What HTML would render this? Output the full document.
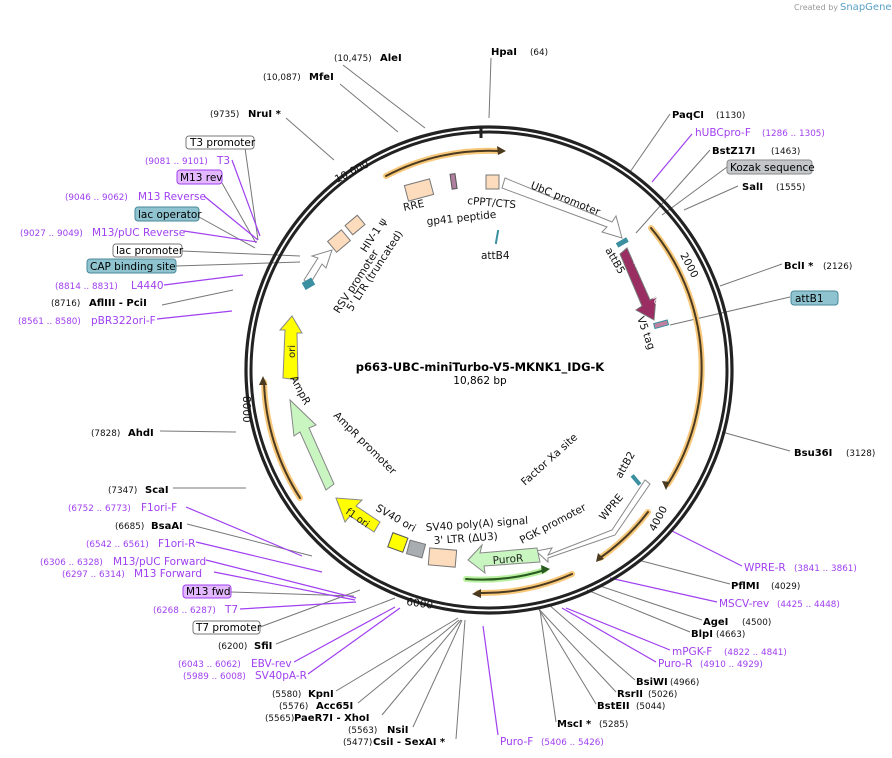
<!DOCTYPE html>
<html><head><meta charset="utf-8"><style>
html,body{margin:0;padding:0;background:#fff;}
svg{display:block;font-family:"DejaVu Sans","Liberation Sans",sans-serif;}
.n{font-size:8.8px;fill:#111}
.b{font-size:10px;font-weight:bold;fill:#000}
.p{font-size:10.5px;fill:#a040f0}
.pn{font-size:8.8px;fill:#a040f0}
.f{font-size:10.5px;fill:#111}
.l{stroke:#777;stroke-width:1;fill:none}
.lp{stroke:#a040f0;stroke-width:1.2;fill:none}
</style></head><body>
<svg width="892" height="758" viewBox="0 0 892 758">
<text x="794" y="10" font-size="8" fill="#999">Created by</text>
<text x="840" y="10" font-size="10" fill="#5aa0c8">SnapGene</text>

<g class="l">
<path d="M343,65 L425,128"/><path d="M340,84 L398,132"/><path d="M286,118 L334,160"/>
<path d="M245,148 L258,240"/><path d="M222,183 L256,243"/><path d="M199,217 L255,248"/>
<path d="M182,251 L300,256"/><path d="M176,266 L300,262"/><path d="M162,305 L233,290"/>
<path d="M160,431 L236,432"/><path d="M173,488 L246,488"/><path d="M187,524 L312,556"/>
<path d="M231,592 L354,596"/><path d="M260,627 L360,590"/><path d="M276,644 L395,598"/>
<path d="M336,691 L458,618"/><path d="M358,703 L459,620"/><path d="M382,715 L461,620"/><path d="M413,727 L462,620"/><path d="M456,739 L465,620"/>
<path d="M556,722 L540,610"/><path d="M596,704 L538,608"/><path d="M616,692 L537,607"/><path d="M635,680 L548,604"/>
<path d="M690,632 L587,590"/><path d="M702,620 L600,586"/><path d="M730,584 L638,560"/><path d="M790,451 L722,432"/>
<path d="M782,264 L720,286"/><path d="M790,297 L670,325"/><path d="M738,186 L684,210"/><path d="M727,167 L662,215"/><path d="M710,150 L636,233"/><path d="M670,114 L630,172"/><path d="M491,58 L489,118"/>
</g>
<g class="lp">
<path d="M232,160 L260,236"/><path d="M204,196 L258,240"/><path d="M184,231 L257,242"/><path d="M164,285 L243,275"/><path d="M157,319 L232,311"/>
<path d="M186,507 L302,556"/><path d="M196,542 L322,572"/><path d="M206,560 L356,598"/><path d="M214,572 L355,600"/><path d="M240,609 L356,602"/>
<path d="M294,662 L395,607"/><path d="M308,674 L400,608"/><path d="M498,735 L483,626"/>
<path d="M656,662 L562,608"/><path d="M670,650 L566,608"/><path d="M717,602 L610,578"/><path d="M742,566 L670,530"/><path d="M692,134 L652,182"/>
</g>

<circle cx="489" cy="370" r="243" fill="none" stroke="#222" stroke-width="3.2"/>
<circle cx="489" cy="370" r="238" fill="none" stroke="#222" stroke-width="3"/>
<line x1="481" y1="126" x2="481" y2="138" stroke="#222" stroke-width="3"/>
<text class="f" font-size="10" transform="translate(337,183) rotate(-27)">10,000</text>
<text class="f" font-size="10" transform="translate(680,255) rotate(62)">2000</text>
<text class="f" font-size="10" transform="translate(655,532) rotate(-62)">4000</text>
<text class="f" font-size="10" x="406" y="605" transform="rotate(8 406 605)">6000</text>
<text class="f" font-size="10" transform="translate(243,396) rotate(90)">8000</text>

<g fill="none" stroke-linecap="round">
<g stroke="#f7c77a" stroke-width="6">
<path d="M386,176 A220,220 0 0 1 500,151"/><path d="M651,228 A218,218 0 0 1 668,484"/>
<path d="M648,512 A215,215 0 0 1 600,558"/><path d="M572,574 A220,220 0 0 1 478,593"/>
<path d="M300,498 A228,228 0 0 1 264,382"/></g>
<g stroke="#4a3a20" stroke-width="2">
<path d="M386,176 A220,220 0 0 1 500,151"/><path d="M651,228 A218,218 0 0 1 668,484"/>
<path d="M648,512 A215,215 0 0 1 600,558"/><path d="M572,574 A220,220 0 0 1 478,593"/>
<path d="M300,498 A228,228 0 0 1 264,382"/></g>
<path d="M466,579 A210,210 0 0 0 545,570" stroke="#b8f0a0" stroke-width="6"/>
<path d="M466,579 A210,210 0 0 0 545,570" stroke="#2a5a20" stroke-width="2"/>
</g>
<g fill="#4a3a20"><path d="M506,151 l-9,-5 l1,9z"/><path d="M666,490 l-4,-9 l8,1z"/><path d="M596,562 l2,-9 l6,6z"/><path d="M472,594 l9,-5 l0,9z"/><path d="M263,376 l-4,9 l8,0z"/><path d="M550,569 l-9,-4 l1,9z" fill="#2a5a20"/></g>

<path d="M505,178 L612,222 L616,216 L622,238 L602,232 L607,227 L502,188Z" fill="#fff" stroke="#888"/>
<path d="M627,248 L650,300 L656,297 L654,320 L636,310 L642,306 L620,254Z" fill="#9a2d62" stroke="#777"/>
<text font-size="10" fill="#fff" transform="translate(633,262) rotate(62)">miniTurbo</text>
<rect x="616" y="240" width="12" height="5" fill="#3a8fa0" transform="rotate(-30 622 242)"/>
<rect x="654" y="322" width="14" height="5" fill="#c080a0" stroke="#3a8fa0" transform="rotate(-15 660 324)"/>
<path d="M645,480 L612,530 L548,555 L552,548 L536,551 L548,562 L548,558 L615,535 L650,484Z" fill="#fff" stroke="#888"/>
<rect x="630" y="478" width="12" height="4" fill="#3a8fa0" transform="rotate(50 636 480)"/>
<path d="M537,548 L480,553 L482,545 L468,560 L485,573 L484,566 L540,562Z" fill="#c8f5c0" stroke="#888"/>
<text font-size="10.5" fill="#222" x="493" y="564" transform="rotate(-5 493 564)">PuroR</text>
<rect x="429" y="549" width="27" height="17" fill="#fcdcbc" stroke="#777" transform="rotate(5 442 557)"/>
<rect x="408" y="542" width="16" height="14" fill="#a8adb2" stroke="#777" transform="rotate(15 416 549)"/>
<rect x="390" y="535" width="16" height="15" fill="#ffff00" stroke="#555" transform="rotate(20 398 542)"/>
<path d="M374,532 L350,516 L345,522 L336,498 L362,500 L356,506 L380,522Z" fill="#ffff00" stroke="#888"/>
<text font-size="10" fill="#222" transform="translate(345,513) rotate(35)">f1 ori</text>
<path d="M326,490 L300,432 L294,436 L290,400 L316,425 L309,428 L334,484Z" fill="#c8f5c0" stroke="#888"/>
<path d="M298,380 L283,378 L285,330 L280,330 L292,316 L302,333 L297,333Z" fill="#ffff00" stroke="#888"/>
<text font-size="10" fill="#222" transform="translate(295,358) rotate(-90)">ori</text>
<path d="M304,280 L318,258 L312,256 L332,250 L326,268 L322,264 L310,284Z" fill="#fff" stroke="#888"/>
<rect x="303" y="280" width="11" height="8" fill="#3a8fa0" transform="rotate(-30 308 284)"/>
<rect x="330" y="234" width="18" height="14" fill="#fcdcbc" stroke="#777" transform="rotate(-40 339 241)"/>
<rect x="347" y="219" width="16" height="12" fill="#fcdcbc" stroke="#777" transform="rotate(-40 355 225)"/>
<rect x="406" y="182" width="26" height="16" fill="#fcdcbc" stroke="#777" transform="rotate(-15 419 190)"/>
<rect x="451" y="174" width="5" height="15" fill="#b07fa0" stroke="#555" transform="rotate(-8 453 181)"/>
<rect x="486" y="175" width="13" height="14" fill="#fcdcbc" stroke="#777"/>
<rect x="496" y="230" width="2" height="14" fill="#3a8fa0" transform="rotate(10 497 237)"/>

<text class="f" x="404" y="211" transform="rotate(-12 404 211)">RRE</text>
<text class="f" x="427" y="225" transform="rotate(-6 427 225)">gp41 peptide</text>
<text class="f" x="467" y="204" transform="rotate(5 467 204)">cPPT/CTS</text>
<text class="f" transform="translate(530,188) rotate(22)">UbC promoter</text>
<text class="f" x="481" y="259">attB4</text>
<text class="f" transform="translate(605,250) rotate(60)">attB5</text>
<text class="f" transform="translate(637,318) rotate(70)">V5 tag</text>
<text class="f" transform="translate(366,253) rotate(-57)">HIV-1 ψ</text>
<text class="f" transform="translate(339,314) rotate(-57)">RSV promoter</text>
<text class="f" transform="translate(352,312) rotate(-57)">5' LTR (truncated)</text>
<text class="f" transform="translate(290,378) rotate(62)">AmpR</text>
<text class="f" transform="translate(333,416) rotate(45)">AmpR promoter</text>
<text class="f" transform="translate(375,510) rotate(30)">SV40 ori</text>
<text class="f" x="426" y="531" transform="rotate(-4 426 531)">SV40 poly(A) signal</text>
<text class="f" x="434" y="544" transform="rotate(-4 434 544)">3' LTR (ΔU3)</text>
<text class="f" transform="translate(525,486) rotate(-42)">Factor Xa site</text>
<text class="f" transform="translate(621,479) rotate(-60)">attB2</text>
<text class="f" transform="translate(522,544) rotate(-28)">PGK promoter</text>
<text class="f" transform="translate(604,521) rotate(-50)">WPRE</text>
<text x="480" y="371" text-anchor="middle" font-size="11.5" font-weight="bold">p663-UBC-miniTurbo-V5-MKNK1_IDG-K</text>
<text x="480" y="384" text-anchor="middle" font-size="10.5">10,862 bp</text>

<g font-size="10.5">
<rect x="186" y="136" width="68" height="13" rx="3" fill="#fff" stroke="#777"/><text x="190" y="146">T3 promoter</text>
<rect x="177" y="170" width="45" height="14" rx="3" fill="#e3b8ff" stroke="#a040f0"/><text x="180" y="181">M13 rev</text>
<rect x="135" y="207" width="64" height="14" rx="3" fill="#8ec3cf" stroke="#4a8a9a"/><text x="138" y="218">lac operator</text>
<rect x="113" y="244" width="69" height="13" rx="3" fill="#fff" stroke="#777"/><text x="116" y="254">lac promoter</text>
<rect x="87" y="259" width="89" height="14" rx="3" fill="#8ec3cf" stroke="#4a8a9a"/><text x="90" y="270">CAP binding site</text>
<rect x="183" y="585" width="48" height="13" rx="3" fill="#e3b8ff" stroke="#a040f0"/><text x="186" y="595">M13 fwd</text>
<rect x="193" y="621" width="67" height="13" rx="3" fill="#fff" stroke="#777"/><text x="196" y="631">T7 promoter</text>
<rect x="727" y="160" width="85" height="14" rx="3" fill="#c4c7ca" stroke="#888"/><text x="730" y="171">Kozak sequence</text>
<rect x="791" y="291" width="47" height="14" rx="3" fill="#8ec3cf" stroke="#4a8a9a"/><text x="795" y="302">attB1</text>
</g>

<text class="n" x="334" y="61">(10,475)</text><text class="b" x="380" y="61">AleI</text>
<text class="n" x="263" y="80">(10,087)</text><text class="b" x="309" y="80">MfeI</text>
<text class="n" x="210" y="117">(9735)</text><text class="b" x="248" y="117">NruI *</text>
<text class="pn" x="145" y="164">(9081 .. 9101)</text><text class="p" x="217" y="164">T3</text>
<text class="pn" x="65" y="200">(9046 .. 9062)</text><text class="p" x="138" y="200">M13 Reverse</text>
<text class="pn" x="20" y="236">(9027 .. 9049)</text><text class="p" x="92" y="236">M13/pUC Reverse</text>
<text class="pn" x="55" y="289">(8814 .. 8831)</text><text class="p" x="131" y="289">L4440</text>
<text class="n" x="51" y="306">(8716)</text><text class="b" x="89" y="306">AflIII  - PciI</text>
<text class="pn" x="18" y="324">(8561 .. 8580)</text><text class="p" x="91" y="324">pBR322ori-F</text>
<text class="n" x="91" y="436">(7828)</text><text class="b" x="128" y="436">AhdI</text>
<text class="n" x="108" y="493">(7347)</text><text class="b" x="145" y="493">ScaI</text>
<text class="pn" x="68" y="511">(6752 .. 6773)</text><text class="p" x="141" y="511">F1ori-F</text>
<text class="n" x="115" y="529">(6685)</text><text class="b" x="151" y="529">BsaAI</text>
<text class="pn" x="86" y="547">(6542 .. 6561)</text><text class="p" x="158" y="547">F1ori-R</text>
<text class="pn" x="40" y="565">(6306 .. 6328)</text><text class="p" x="113" y="565">M13/pUC Forward</text>
<text class="pn" x="62" y="577">(6297 .. 6314)</text><text class="p" x="134" y="577">M13 Forward</text>
<text class="pn" x="153" y="613">(6268 .. 6287)</text><text class="p" x="225" y="613">T7</text>
<text class="n" x="218" y="649">(6200)</text><text class="b" x="254" y="649">SfiI</text>
<text class="pn" x="178" y="667">(6043 .. 6062)</text><text class="p" x="251" y="667">EBV-rev</text>
<text class="pn" x="183" y="679">(5989 .. 6008)</text><text class="p" x="255" y="679">SV40pA-R</text>
<text class="n" x="272" y="697">(5580)</text><text class="b" x="308" y="697">KpnI</text>
<text class="n" x="279" y="709">(5576)</text><text class="b" x="316" y="709">Acc65I</text>
<text class="n" x="265" y="721">(5565)</text><text class="b" x="294" y="721">PaeR7I  - XhoI</text>
<text class="n" x="348" y="733">(5563)</text><text class="b" x="387" y="733">NsiI</text>
<text class="n" x="343" y="745">(5477)</text><text class="b" x="373" y="745">CsiI  - SexAI *</text>
<text class="b" x="491" y="55">HpaI</text><text class="n" x="530" y="55">(64)</text>
<text class="b" x="672" y="118">PaqCI</text><text class="n" x="716" y="118">(1130)</text>
<text class="p" x="695" y="136">hUBCpro-F</text><text class="pn" x="762" y="136">(1286 .. 1305)</text>
<text class="b" x="712" y="154">BstZ17I</text><text class="n" x="771" y="154">(1463)</text>
<text class="b" x="742" y="190">SalI</text><text class="n" x="776" y="190">(1555)</text>
<text class="b" x="784" y="269">BclI *</text><text class="n" x="823" y="269">(2126)</text>
<text class="b" x="794" y="456">Bsu36I</text><text class="n" x="846" y="456">(3128)</text>
<text class="p" x="744" y="571">WPRE-R</text><text class="pn" x="794" y="571">(3841 .. 3861)</text>
<text class="b" x="731" y="589">PflMI</text><text class="n" x="771" y="589">(4029)</text>
<text class="p" x="719" y="607">MSCV-rev</text><text class="pn" x="777" y="607">(4425 .. 4448)</text>
<text class="b" x="703" y="625">AgeI</text><text class="n" x="742" y="625">(4500)</text>
<text class="b" x="691" y="637">BlpI</text><text class="n" x="716" y="637">(4663)</text>
<text class="p" x="672" y="655">mPGK-F</text><text class="pn" x="724" y="655">(4822 .. 4841)</text>
<text class="p" x="658" y="667">Puro-R</text><text class="pn" x="700" y="667">(4910 .. 4929)</text>
<text class="b" x="636" y="685">BsiWI</text><text class="n" x="670" y="685">(4966)</text>
<text class="b" x="617" y="697">RsrII</text><text class="n" x="648" y="697">(5026)</text>
<text class="b" x="597" y="709">BstEII</text><text class="n" x="636" y="709">(5044)</text>
<text class="b" x="557" y="727">MscI *</text><text class="n" x="599" y="727">(5285)</text>
<text class="p" x="500" y="745">Puro-F</text><text class="pn" x="541" y="745">(5406 .. 5426)</text>
</svg>
</body></html>
